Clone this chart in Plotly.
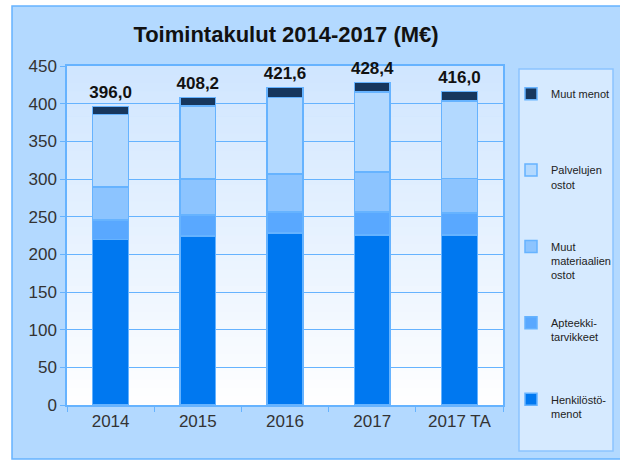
import plotly.graph_objects as go

categories = ["2014", "2015", "2016", "2017", "2017 TA"]
henkilosto = [220.0, 224.6, 228.5, 225.9, 225.9]
apteekki = [25.4, 27.4, 27.9, 30.5, 29.1]
muut_materiaalit = [44.1, 47.7, 50.0, 52.6, 46.0]
palvelujen = [96.0, 97.3, 101.6, 106.5, 102.6]
muut_menot = [10.5, 11.2, 13.6, 12.9, 12.4]
totals = [396.0, 408.2, 421.6, 428.4, 416.0]
total_labels = ["396,0", "408,2", "421,6", "428,4", "416,0"]
y_ticks = [0, 50, 100, 150, 200, 250, 300, 350, 400, 450]

series = [
    ("Henkilöstö-<br>menot<br> ", henkilosto, "#0078F0"),
    ("Apteekki-<br>tarvikkeet<br> ", apteekki, "#59A8FF"),
    ("Muut<br>materiaalien<br>ostot", muut_materiaalit, "#8CC4FF"),
    ("Palvelujen<br>ostot<br> ", palvelujen, "#B3D9FF"),
    ("Muut menot<br> <br> ", muut_menot, "#17375E"),
]

FONT = "Liberation Sans, Arial, sans-serif"
EDGE = "#66B3FF"

fig = go.Figure()
for i, (name, vals, col) in enumerate(series):
    fig.add_trace(go.Bar(
        x=categories, y=vals, name=name, legendgroup=f"g{i}",
        legendrank=10 - i,
        marker=dict(color=col, line=dict(color=EDGE, width=1.5)),
        hoverinfo="skip",
    ))

fig.add_trace(go.Scatter(
    x=categories, y=totals, mode="markers+text",
    marker=dict(size=5, opacity=0),
    text=[f"<b>{t}</b>" for t in total_labels],
    textposition="top center",
    textfont=dict(family=FONT, size=17, color="#111111"),
    showlegend=False, hoverinfo="skip", cliponaxis=False,
))

shapes = []
# outer chart area
shapes.append(dict(type="rect", xref="paper", yref="paper",
                   x0=(12 - 67) / 436, x1=(630 - 67) / 436,
                   y0=(405 - 459) / 339, y1=(405 - 6) / 339,
                   fillcolor="#B3D9FF", line=dict(color=EDGE, width=1.5),
                   layer="below"))
# legend box
shapes.append(dict(type="rect", xref="paper", yref="paper",
                   x0=(519 - 67) / 436, x1=(613 - 67) / 436,
                   y0=(405 - 451) / 339, y1=(405 - 69) / 339,
                   fillcolor="#D6EAFF", line=dict(color="#8CC4FF", width=1.5),
                   layer="below"))
# gradient plot background
n = 40
top = (208, 230, 255)
for k in range(n):
    f = (k + 0.5) / n
    r = int(255 + (top[0] - 255) * f)
    g = int(255 + (top[1] - 255) * f)
    b = int(255 + (top[2] - 255) * f)
    shapes.append(dict(type="rect", xref="x domain", yref="y domain",
                       x0=0, x1=1, y0=k / n, y1=(k + 1) / n + 0.002,
                       fillcolor=f"rgb({r},{g},{b})", line=dict(width=0),
                       layer="below"))

fig.update_layout(
    width=620, height=461,
    margin=dict(l=67, r=117, t=66, b=56, autoexpand=False),
    paper_bgcolor="white",
    plot_bgcolor="rgba(0,0,0,0)",
    barmode="stack",
    bargap=0.59,
    shapes=shapes,
    font=dict(family=FONT, color="#333333"),
    title=dict(text="<b>Toimintakulut 2014-2017 (M€)</b>",
               x=(286 - 67) / 436, xref="paper", xanchor="center",
               y=1 - 34 / 461, yanchor="middle",
               font=dict(family=FONT, size=22, color="#111111")),
    legend=dict(x=(511 - 67) / 436, y=(405 - 80) / 339,
                xanchor="left", yanchor="top", maxheight=455,
                bgcolor="rgba(0,0,0,0)", borderwidth=0,
                traceorder="grouped", tracegroupgap=30.5,
                valign="top", itemwidth=30,
                font=dict(family=FONT, size=11, color="#222222")),
    xaxis=dict(type="category", automargin=False, layer="below traces",
               showline=True, linecolor=EDGE, linewidth=1.5, mirror=True,
               ticks="outside", tickson="boundaries", ticklen=5,
               tickcolor=EDGE, tickfont=dict(size=17, color="#333333"),
               showgrid=False, tickangle=0),
    yaxis=dict(range=[0, 450], tickvals=y_ticks, showline=True,
               automargin=False, layer="below traces",
               linecolor=EDGE, linewidth=1.5, mirror=True,
               ticks="outside", ticklen=5, tickcolor=EDGE,
               gridcolor=EDGE, gridwidth=1,
               tickfont=dict(size=17, color="#333333")),
)

fig.write_html("out.html", config={"displayModeBar": False},
               post_script="document.body.style.margin='0';")
